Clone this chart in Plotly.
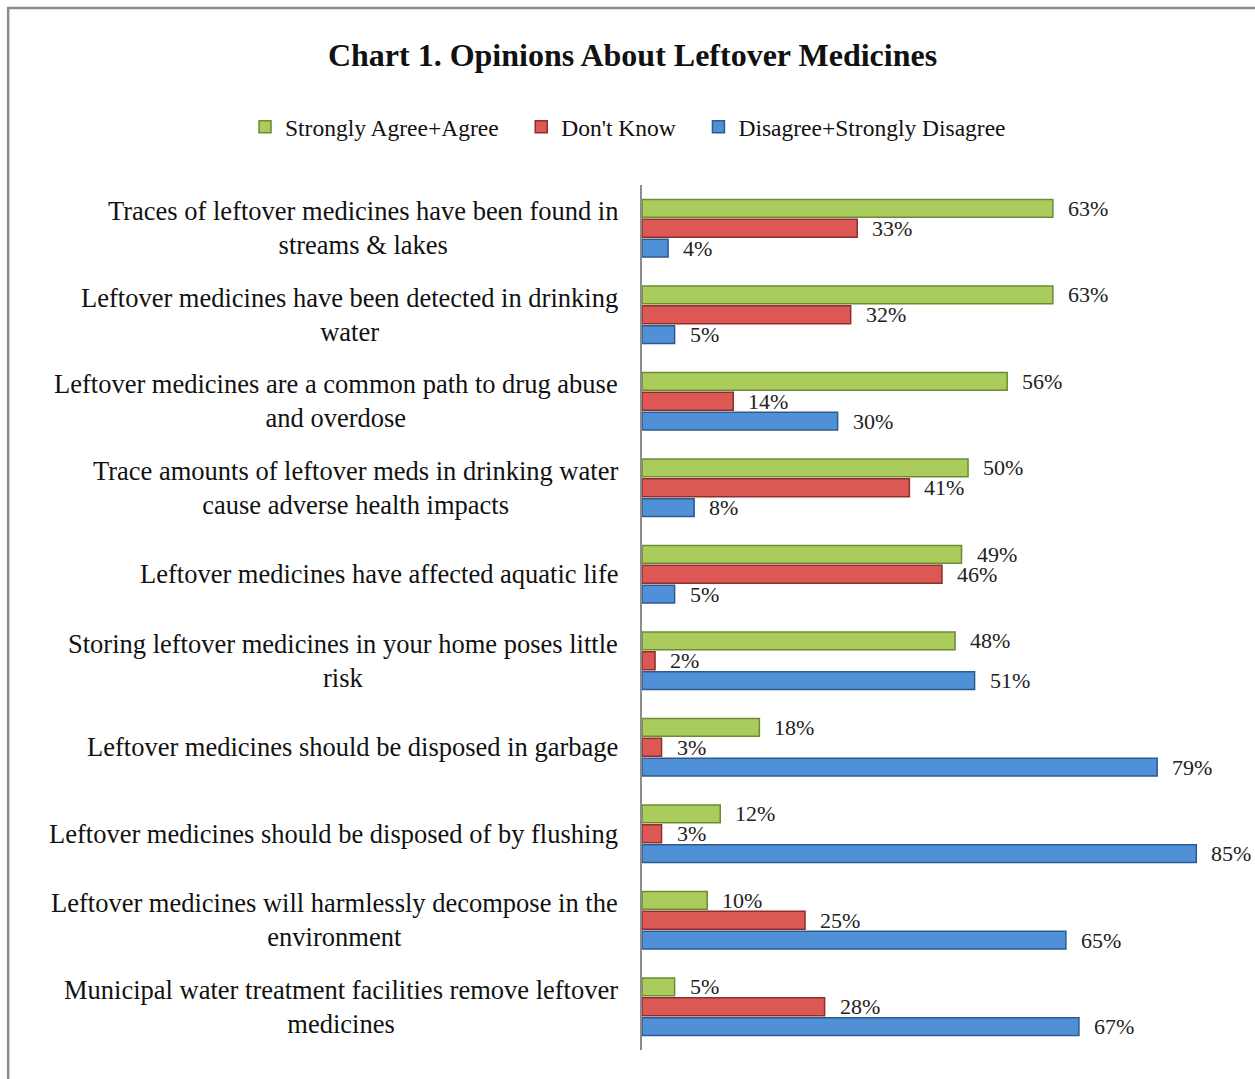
import plotly.graph_objects as go

# Survey statements (top to bottom) and response shares in percent
statements = [
    "Traces of leftover medicines have been found in<br>streams & lakes",
    "Leftover medicines have been detected in drinking<br>water",
    "Leftover medicines are a common path to drug abuse<br>and overdose",
    "Trace amounts of leftover meds in drinking water<br>cause adverse health impacts",
    "Leftover medicines have affected aquatic life",
    "Storing leftover medicines in your home poses little<br>risk",
    "Leftover medicines should be disposed in garbage",
    "Leftover medicines should be disposed of by flushing",
    "Leftover medicines will harmlessly decompose in the<br>environment",
    "Municipal water treatment facilities remove leftover<br>medicines",
]
agree = [63, 63, 56, 50, 49, 48, 18, 12, 10, 5]
dont_know = [33, 32, 14, 41, 46, 2, 3, 3, 25, 28]
disagree = [4, 5, 30, 8, 5, 51, 79, 85, 65, 67]

series_names = ["Strongly Agree+Agree", "Don't Know", "Disagree+Strongly Disagree"]
series_values = [agree, dont_know, disagree]
fill_colors = ["#AACC5C", "#DC5855", "#5090D6"]
edge_colors = ["#6E8A34", "#8E2F2D", "#2F5A91"]
# vertical pixel offset of each series' value label within a category group
label_shift = [20, 0, -20]
# extra spacing after each legend entry
legend_pad = [3, 3, 0]

SERIF = "Liberation Serif"
cat_idx = list(range(len(statements)))

fig = go.Figure()
for name, vals, fc, ec, dy, pad in zip(series_names, series_values, fill_colors,
                                       edge_colors, label_shift, legend_pad):
    fig.add_trace(go.Bar(
        y=cat_idx,
        x=vals,
        name=name + "\u00a0" * pad,
        orientation="h",
        marker=dict(color=fc, line=dict(color=ec, width=1.5)),
        hoverinfo="x+name",
    ))
    # value labels just past the end of each bar
    for i, v in enumerate(vals):
        fig.add_annotation(
            x=v, y=i, xref="x", yref="y",
            xanchor="left", yanchor="middle", xshift=13, yshift=dy,
            text=f"{v}%", showarrow=False,
            font=dict(family=SERIF, size=22, color="#222222"),
        )

# Statement labels: centred multi-line text, right-aligned against the axis
for i, s in enumerate(statements):
    fig.add_annotation(
        x=0, xref="paper", xanchor="right", xshift=-22,
        y=i, yref="y", yanchor="middle",
        text=s, align="center", showarrow=False,
        font=dict(family=SERIF, size=26.5, color="#111111"),
    )

# Outer chart frame
fig.add_shape(
    type="rect", xref="paper", yref="paper",
    x0=-1.034, x1=1.2, y0=-0.2, y1=1.2046,
    line=dict(color="#8C8C8C", width=2.5), fillcolor="rgba(0,0,0,0)",
    layer="below",
)

fig.update_layout(
    width=1255, height=1079,
    margin=dict(l=642, r=0, t=185, b=29),
    paper_bgcolor="white", plot_bgcolor="white",
    barmode="group", bargap=0.31, bargroupgap=0.1,
    title=dict(
        text="<b>Chart 1. Opinions About Leftover Medicines</b>",
        font=dict(family=SERIF, size=32, color="#111111"),
        x=0.504, xref="container", xanchor="center",
        y=0.949, yref="container", yanchor="middle",
    ),
    legend=dict(
        orientation="h", xref="paper", x=-0.6476, xanchor="left",
        yref="paper", y=1.067, yanchor="middle",
        font=dict(family=SERIF, size=23.5, color="#111111"),
        itemwidth=30, traceorder="normal",
    ),
    xaxis=dict(range=[0, 94], visible=False, fixedrange=True),
    yaxis=dict(
        range=[9.5, -0.5], showticklabels=False, showgrid=False, zeroline=False,
        showline=True, linecolor="#8C8C8C", linewidth=1.5, ticks="",
    ),
)

fig.write_html("out.html")
